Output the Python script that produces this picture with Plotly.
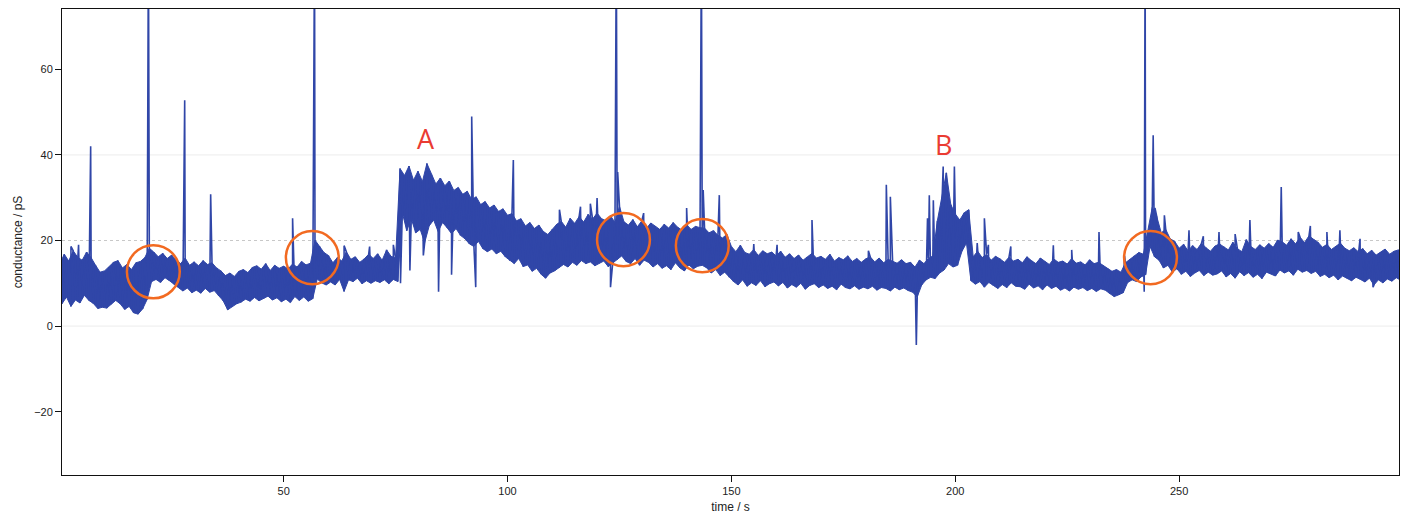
import plotly.graph_objects as go

# ---- data (time in s, conductance in pS) ----
# upper edge of the noisy band at each whole second (0..299)
band_hi = [
    14.5, 16.8, 15.2, 17.6, 16.1, 15.4, 17.3, 16.0, 14.2, 12.6,
    12.9, 13.8, 14.9, 15.3, 13.6, 14.4, 13.2, 14.8, 15.1, 16.0,
    18.2, 17.3, 16.2, 17.0, 15.8, 16.6, 15.4, 14.6, 15.9, 14.2,
    15.0, 14.1, 15.3, 14.4, 14.8, 13.6, 12.9, 11.8, 12.4, 11.6,
    12.8, 13.2, 12.5, 13.7, 14.1, 13.3, 14.6, 13.0, 14.2, 13.5,
    14.0, 13.4, 14.5, 13.8, 15.1, 14.3, 14.7, 20.1, 18.7, 17.2,
    16.5, 14.8, 16.0, 15.2, 17.4, 15.6, 16.2, 14.9, 15.7, 16.8,
    15.8, 16.9, 15.4, 17.8, 16.3, 15.9, 36.8, 35.2, 37.4, 34.1,
    36.2, 33.8, 38.0, 35.4, 33.2, 34.6, 32.8, 33.9, 31.7, 32.4,
    30.8, 31.5, 29.6, 30.2, 28.4, 29.1, 27.6, 28.3, 26.8, 27.4,
    25.9, 26.3, 24.6, 25.1, 23.4, 24.2, 22.8, 23.6, 22.1, 21.4,
    22.6, 23.8, 24.5, 23.1, 25.2, 24.0, 25.6, 24.3, 26.1, 25.0,
    26.4, 25.1, 24.6, 25.8, 24.2, 28.0, 24.4, 23.6, 24.9, 23.2,
    24.6, 22.8, 24.1, 23.4, 22.6, 23.8, 22.9, 24.2, 23.1, 22.4,
    23.7, 22.6, 23.3, 23.0, 22.9, 21.8, 22.3, 21.2, 20.6, 21.4,
    18.6, 17.4, 18.9, 17.2, 16.8, 17.9, 16.5, 17.6, 16.9, 17.3,
    16.4, 17.5, 16.1, 16.9, 15.8, 16.6, 15.4, 16.2, 17.0, 15.9,
    16.3, 15.6, 16.8, 15.2, 16.0, 15.5, 16.4, 15.1, 15.8, 14.9,
    15.7, 16.2, 15.0, 15.9, 14.8, 15.6, 15.2, 14.7, 15.5, 14.6,
    14.9, 13.8, 15.4, 14.6, 15.8, 16.4, 24.6, 30.2, 35.8, 28.4,
    26.2, 24.8, 26.5, 27.2, 16.2, 17.5, 16.0, 16.8, 15.4, 16.3,
    15.7, 14.9, 16.1, 15.2, 15.6, 14.8, 16.2, 15.3, 14.6, 15.9,
    15.1, 14.4, 15.7, 14.9, 15.2, 14.5, 15.8, 14.7, 15.0, 14.3,
    15.5, 14.6, 14.9, 14.1, 13.5, 12.8, 13.2, 12.6, 14.8, 15.6,
    16.4, 17.2, 16.8, 22.4, 27.8, 25.6, 21.8, 22.6, 20.4, 19.8,
    18.2, 19.1, 17.6, 18.8, 17.9, 19.4, 18.3, 17.5, 18.7, 19.2,
    18.5, 17.8, 19.6, 18.1, 17.4, 20.2, 18.6, 17.9, 19.0, 18.2,
    19.3, 18.4, 20.1, 19.7, 18.9, 20.4, 19.2, 20.8, 19.5, 21.1,
    20.3, 19.6, 18.4, 19.1, 17.9, 18.6, 19.4, 18.2, 17.6, 18.3,
    17.4, 18.1, 16.9, 17.7, 16.6, 17.3, 18.0, 16.8, 17.5, 17.8,
]
# lower edge of the noisy band at each half second (0.5..299.5)
band_lo = [
    5.2, 6.8, 4.6, 6.1, 5.4, 7.2, 6.0, 5.3, 4.1, 4.4,
    4.2, 5.1, 6.0, 5.2, 3.9, 4.6, 3.1, 2.8, 4.0, 6.2,
    10.4, 10.9, 10.2, 11.3, 10.6, 9.8, 9.1, 8.2, 8.9, 7.8,
    8.4, 7.7, 8.8, 7.9, 8.3, 7.1, 5.9, 3.8, 4.6, 5.2,
    5.6, 6.3, 5.8, 6.7, 5.9, 6.4, 7.0, 6.1, 6.6, 5.7,
    6.3, 5.5, 6.9, 6.0, 6.8, 5.8, 6.4, 11.0, 10.1, 9.6,
    10.3, 9.6, 10.9, 8.1, 10.8, 10.4, 11.2, 9.9, 10.6, 10.0,
    10.6, 10.2, 10.8, 9.9, 10.9, 10.4, 26.5, 22.3, 25.1, 21.8,
    22.6, 19.5, 23.4, 24.8, 22.1, 24.2, 23.0, 21.6, 22.8, 21.2,
    20.4, 19.2, 18.6, 19.8, 18.1, 17.4, 18.0, 16.9, 17.5, 16.2,
    15.3, 14.6, 15.8, 13.9, 14.3, 12.8, 13.5, 12.1, 11.2, 12.4,
    12.9, 13.6, 14.4, 13.8, 14.9, 14.2, 15.3, 14.6, 15.0, 14.1,
    14.7, 15.2, 13.9, 14.8, 15.5, 16.4, 15.1, 14.6, 15.8, 14.2,
    15.4, 14.9, 13.8, 14.6, 13.5, 14.1, 13.2, 14.8, 13.6, 12.9,
    14.3, 13.4, 14.0, 14.2, 13.6, 12.4, 13.2, 11.8, 12.6, 11.4,
    10.4, 9.6, 10.8, 9.3, 10.1, 9.5, 10.6, 9.2, 9.9, 10.3,
    9.4, 10.2, 8.9, 9.7, 9.1, 10.0, 8.6, 9.5, 9.9, 9.0,
    9.6, 8.8, 9.3, 8.5, 9.8, 9.0, 8.7, 9.4, 8.6, 9.1,
    8.7, 9.3, 8.4, 9.0, 8.8, 8.2, 9.1, 8.5, 8.9, 8.3,
    7.9, 6.8, 9.6, 10.8, 11.4, 11.1, 12.4, 13.1, 14.6, 13.8,
    14.2, 17.5, 19.4, 10.6, 9.8, 10.4, 9.1, 10.2, 9.5, 8.8,
    9.7, 9.0, 10.1, 9.3, 9.2, 8.6, 9.8, 8.9, 9.4, 8.5,
    9.6, 8.8, 9.3, 8.4, 8.9, 8.2, 9.1, 8.6, 9.0, 8.3,
    8.8, 8.1, 8.7, 8.4, 7.6, 6.9, 7.3, 7.8, 10.2, 10.8,
    10.4, 11.5, 12.0, 18.6, 16.2, 15.4, 13.6, 14.2, 12.6, 13.4,
    12.1, 12.8, 11.6, 12.4, 13.0, 11.8, 12.6, 11.9, 12.2, 12.9,
    11.5, 12.3, 11.2, 12.7, 11.8, 12.5, 11.4, 12.1, 11.1, 12.6,
    12.2, 11.7, 13.1, 12.4, 12.9, 11.9, 13.3, 12.6, 13.0, 12.3,
    12.8, 11.6, 12.1, 11.3, 11.9, 10.8, 11.7, 11.2, 10.6, 11.4,
    10.9, 10.3, 11.2, 9.6, 10.8, 10.1, 11.0, 10.5, 11.3, 10.7,
]
# isolated spikes / dips (time, conductance)
spike_t = [2.5, 4.2, 6.9, 19.8, 27.9, 33.7, 52.0, 56.9, 63.5, 69.2, 74.5,
           76.1, 78.2, 81.2, 84.6, 87.5, 92.0, 92.9, 101.3, 111.6, 116.3,
           118.5, 120.0, 123.0, 124.3, 124.6, 130.4, 140.0,
           143.3, 143.7, 147.3, 155.0, 160.2, 168.0, 180.6, 184.6, 185.5,
           191.3, 193.8, 194.2, 195.1, 197.3, 199.8, 204.9, 206.5, 207.4,
           212.4, 221.9, 226.0, 232.1, 237.8, 242.2, 242.4, 244.2, 244.6,
           246.7, 252.2, 255.4, 258.9, 262.5, 265.8, 272.8, 276.6, 279.3,
           283.0, 285.9, 290.4, 293.3]
spike_v = [18.6, 19.0, 42.0, 90.0, 52.8, 30.8, 25.2, 90.0, 18.8, 18.6, 19.0,
           10.0, 13.0, 16.5, 8.0, 12.0, 49.0, 9.1, 38.8, 27.2, 27.9,
           28.6, 29.9, 9.1, 90.0, 36.0, 26.4, 27.6,
           90.0, 31.8, 30.6, 19.2, 19.0, 24.8, 17.6, 33.0, 30.2,
           -4.4, 25.2, 30.6, 29.4, 37.3, 37.3, 19.4, 25.2, 19.0,
           18.6, 18.9, 17.8, 22.0, 16.5, 8.0, 90.0, 44.6, 27.6,
           25.9, 22.4, 21.0, 22.0, 21.5, 24.8, 32.5, 22.0, 23.4,
           22.0, 22.4, 20.4, 9.1]

# event labels and highlighted openings
label_text = ["A", "B"]
label_t = [81.7, 197.4]
label_v = [43.9, 42.5]
circle_t = [20.9, 56.4, 125.9, 143.5, 243.6]
circle_v = [12.7, 16.0, 20.2, 18.8, 16.0]

x_ticks = [50, 100, 150, 200, 250]
y_ticks = [-20, 0, 20, 40, 60]

# ---- build the traces ----
t_hi = [float(i) for i in range(len(band_hi))]
t_lo = [i + 0.5 for i in range(len(band_lo))]

pts = []
for i in range(len(band_hi)):
    pts.append((t_hi[i], band_hi[i]))
    pts.append((t_lo[i], band_lo[i]))
pts += list(zip(spike_t, spike_v))
pts.sort(key=lambda p: p[0])
xs = [p[0] for p in pts]
ys = [p[1] for p in pts]

BLUE = "#3046a8"
ORANGE = "#f26a21"
RED = "#ea3b32"

fig = go.Figure()
# the dense noise band (upper edge forward, lower edge back)
fig.add_trace(go.Scatter(x=t_hi + t_lo[::-1], y=band_hi + band_lo[::-1],
                         mode="lines", fill="toself", fillcolor=BLUE,
                         line=dict(color=BLUE, width=1),
                         hoverinfo="skip", showlegend=False))
# the trace itself, including spikes
fig.add_trace(go.Scatter(x=xs, y=ys, mode="lines",
                         line=dict(color=BLUE, width=1.6),
                         hoverinfo="skip", showlegend=False))

shapes = []
for yv, dash, col in [(0, "solid", "#ececec"), (20, "dot", "#c8c8c8"), (40, "solid", "#ececec")]:
    shapes.append(dict(type="line", xref="paper", x0=0, x1=1, yref="y", y0=yv, y1=yv,
                       line=dict(color=col, width=1, dash=dash), layer="below"))
for ct, cv in zip(circle_t, circle_v):
    shapes.append(dict(type="circle", xref="x", yref="y",
                       x0=ct - 5.9, x1=ct + 5.9, y0=cv - 6.2, y1=cv + 6.2,
                       line=dict(color=ORANGE, width=2.5)))

annotations = []
for txt, lt, lv in zip(label_text, label_t, label_v):
    annotations.append(dict(x=lt, y=lv, xref="x", yref="y", text=txt, showarrow=False,
                            font=dict(family="Open Sans, Liberation Sans", size=27, color=RED)))

axis_common = dict(showline=True, mirror=True, linecolor="#111", linewidth=1,
                   ticks="outside", ticklen=6, tickcolor="#111", showgrid=False,
                   zeroline=False, automargin=False,
                   tickfont=dict(family="Liberation Sans, Arial", size=11, color="#222"))

fig.update_layout(
    width=1413, height=528,
    margin=dict(l=62, r=14, t=9, b=53),
    paper_bgcolor="white", plot_bgcolor="white",
    shapes=shapes, annotations=annotations,
    xaxis=dict(range=[0.5, 299.1], tickvals=x_ticks,
               title=dict(text="time / s", standoff=6,
                          font=dict(family="Liberation Sans, Arial", size=12, color="#222")),
               **axis_common),
    yaxis=dict(range=[-34.8, 74.1], tickvals=y_ticks,
               title=dict(text="conductance / pS", standoff=8,
                          font=dict(family="Liberation Sans, Arial", size=12, color="#222")),
               **axis_common),
)

fig.write_html("out.html", config={"displayModeBar": False},
               post_script="document.body.style.margin='0';")
